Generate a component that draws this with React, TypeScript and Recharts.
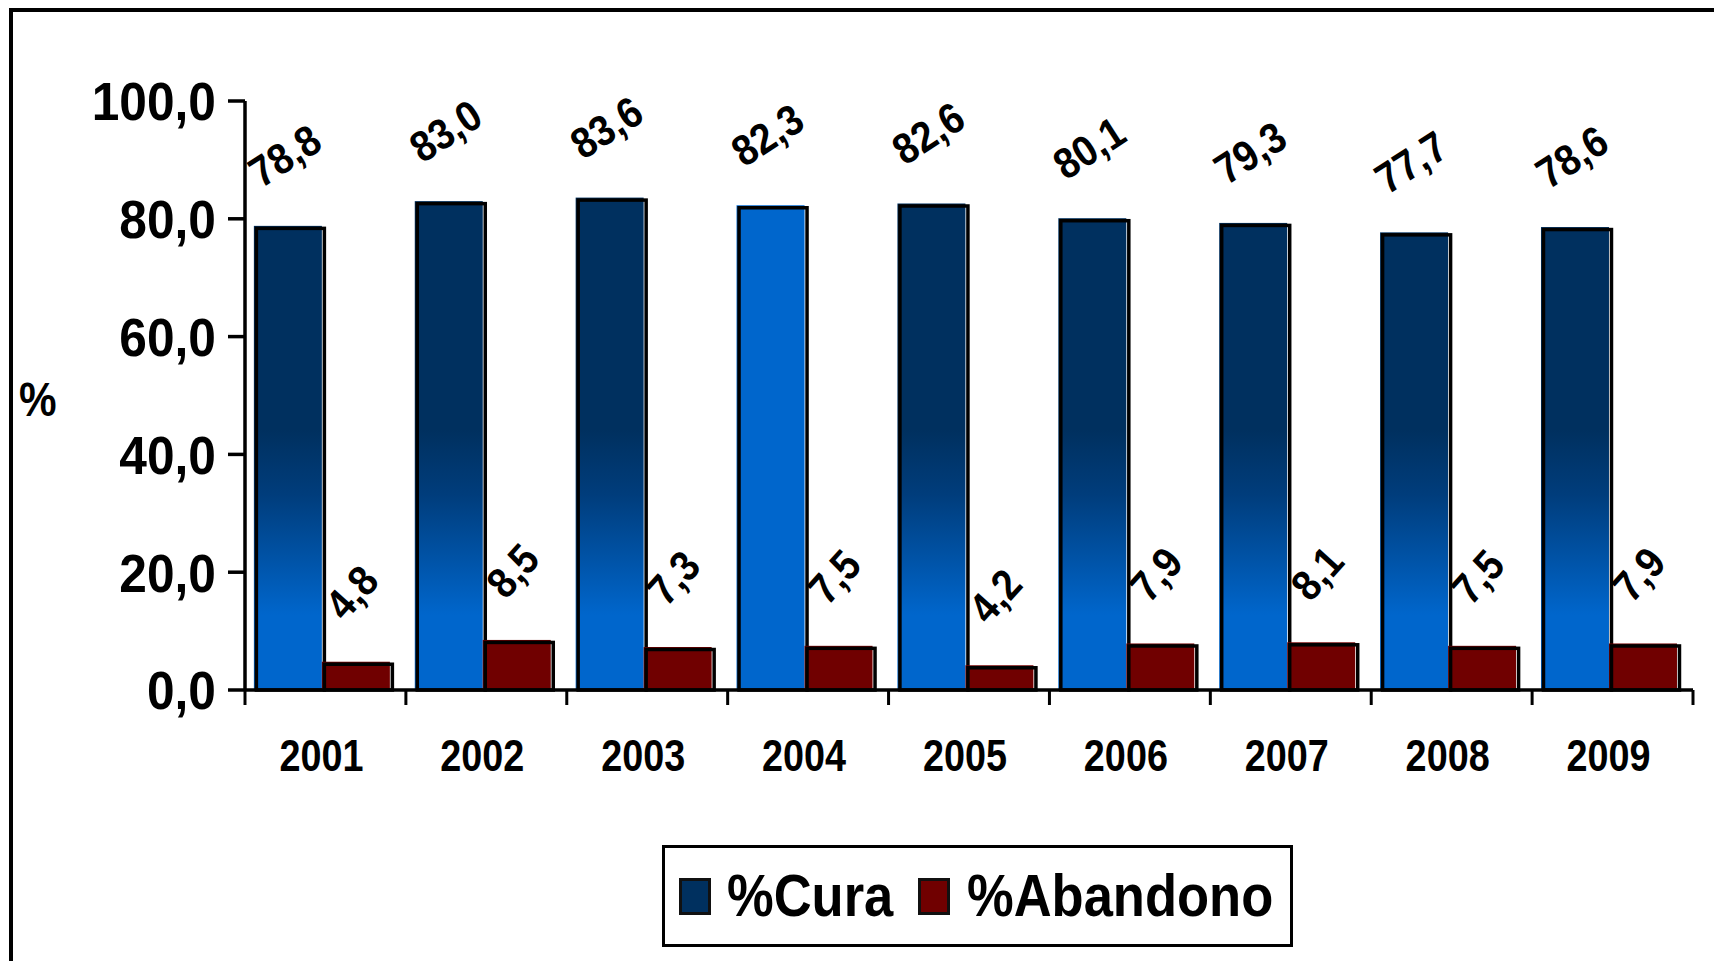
import React from "react";
import { Bar, BarChart, Cell, LabelList, XAxis, YAxis } from "recharts";

const years = ["2001", "2002", "2003", "2004", "2005", "2006", "2007", "2008", "2009"];
const cura = [78.8, 83.0, 83.6, 82.3, 82.6, 80.1, 79.3, 77.7, 78.6];
const abandono = [4.8, 8.5, 7.3, 7.5, 4.2, 7.9, 8.1, 7.5, 7.9];
const yTicks = [0, 20, 40, 60, 80, 100];
const highlightYear = "2004";

const data = years.map((year, i) => ({ year, cura: cura[i], abandono: abandono[i] }));

const W = 1714;
const H = 961;
const FONT = "'Liberation Sans', Arial, sans-serif";
const SHIFT = -4; // the bar groups sit a little left of the band centre
const fmt = (v: number) => v.toFixed(1).replace(".", ",");

// fill + black outline shifted a little, like the old office chart
const BarShape = (props: any) => {
	const { y, width, height, fill } = props;
	const x = props.x + SHIFT;
	if (!height || height <= 0) return null;
	return (
		<g>
			<rect x={x} y={y} width={width} height={height} fill={fill} />
			<rect
				x={x + 2.5}
				y={y + 2.5}
				width={width}
				height={height - 2.5}
				fill="none"
				stroke="#000"
				strokeWidth={3.5}
			/>
		</g>
	);
};

const makeLabel = (angle: number, dx: number, lift: number) => (props: any) => {
	const { x, y, width, value } = props;
	const cx = x + width / 2 + dx + SHIFT;
	const cy = y - lift;
	return (
		<text
			x={cx}
			y={cy}
			textAnchor="middle"
			dominantBaseline="central"
			transform={`rotate(${angle}, ${cx}, ${cy}) translate(${cx}, 0) scale(0.9, 1) translate(${-cx}, 0)`}
			fontFamily={FONT}
			fontWeight="bold"
			fontSize={43}
			fill="#000"
		>
			{fmt(value)}
		</text>
	);
};

const XTick = (props: any) => {
	const { x, y, payload, index } = props;
	const half = payload?.offset || 80.5;
	const tx = x + SHIFT;
	return (
		<g>
			<line x1={x - half} y1={y} x2={x - half} y2={y + 15} stroke="#000" strokeWidth={3} />
			{index === years.length - 1 && (
				<line x1={x + half} y1={y} x2={x + half} y2={y + 15} stroke="#000" strokeWidth={3} />
			)}
			<text
				x={tx}
				y={y + 81}
				textAnchor="middle"
				transform={`translate(${tx}, 0) scale(0.84, 1) translate(${-tx}, 0)`}
				fontFamily={FONT}
				fontWeight="bold"
				fontSize={45}
				fill="#000"
			>
				{payload.value}
			</text>
		</g>
	);
};

const YTick = (props: any) => {
	const { x, y, payload } = props;
	return (
		<text
			x={x}
			y={y}
			dy="0.36em"
			textAnchor="end"
			transform={`translate(${x}, 0) scale(0.92, 1) translate(${-x}, 0)`}
			fontFamily={FONT}
			fontWeight="bold"
			fontSize={54}
			fill="#000"
		>
			{fmt(payload.value)}
		</text>
	);
};

const Swatch = ({ color, left }: { color: string; left: number }) => (
	<div
		style={{
			position: "absolute",
			left,
			top: 878,
			width: 26,
			height: 31,
			background: color,
			border: "3px solid #111",
		}}
	/>
);

const LegendText = ({ text, left }: { text: string; left: number }) => (
	<div
		style={{
			position: "absolute",
			left,
			top: 858,
			fontFamily: FONT,
			fontWeight: "bold",
			fontSize: 60,
			lineHeight: "76px",
			color: "#000",
			whiteSpace: "nowrap",
			transform: "scaleX(0.875)",
			transformOrigin: "left center",
		}}
	>
		{text}
	</div>
);

export default function App() {
	return (
		<div
			style={{
				position: "fixed",
				left: 0,
				top: 0,
				width: W,
				height: H,
				overflow: "hidden",
				background: "#fff",
			}}
		>
			{/* outer frame, cut off at right and bottom */}
			<div
				style={{
					position: "absolute",
					left: 9,
					top: 8,
					width: 1800,
					height: 1100,
					border: "4px solid #000",
				}}
			/>
			<BarChart
				width={W}
				height={H}
				data={data}
				margin={{ top: 101, right: 21, left: 0, bottom: 191 }}
				barCategoryGap="8%"
				barGap={0}
				style={{ position: "absolute", left: 0, top: 0 }}
			>
				<defs>
					<linearGradient id="curaGrad" gradientUnits="userSpaceOnUse" x1="0" y1="430" x2="0" y2="615">
						<stop offset="0" stopColor="#00305F" />
						<stop offset="0.35" stopColor="#003D7C" />
						<stop offset="1" stopColor="#0066CC" />
					</linearGradient>
				</defs>
				<XAxis
					dataKey="year"
					height={80}
					tickSize={0}
					tickMargin={0}
					tickLine={false}
					axisLine={{ stroke: "#000", strokeWidth: 3.5 }}
					tick={<XTick />}
					interval={0}
				/>
				<YAxis
					width={245}
					domain={[0, 100]}
					ticks={yTicks}
					tickSize={17}
					tickMargin={12}
					axisLine={{ stroke: "#000", strokeWidth: 3.5 }}
					tickLine={{ stroke: "#000", strokeWidth: 3.5 }}
					tick={<YTick />}
				/>
				<Bar dataKey="cura" name="%Cura" fill="url(#curaGrad)" shape={<BarShape />} isAnimationActive={false}>
					{data.map((d) => (
						<Cell key={d.year} fill={d.year === highlightYear ? "#0066CC" : "url(#curaGrad)"} />
					))}
					<LabelList dataKey="cura" content={makeLabel(-33, -3, 70)} />
				</Bar>
				<Bar dataKey="abandono" name="%Abandono" fill="#700000" shape={<BarShape />} isAnimationActive={false}>
					<LabelList dataKey="abandono" content={makeLabel(-48, -4, 69)} />
				</Bar>
			</BarChart>

			{/* y axis title */}
			<div
				style={{
					position: "absolute",
					left: 19,
					top: 372,
					fontFamily: FONT,
					fontWeight: "bold",
					fontSize: 48,
					color: "#000",
					transform: "scaleX(0.88)",
					transformOrigin: "left center",
				}}
			>
				%
			</div>

			{/* legend */}
			<div
				style={{
					position: "absolute",
					left: 662,
					top: 845,
					width: 631,
					height: 102,
					border: "3px solid #000",
					boxSizing: "border-box",
				}}
			/>
			<Swatch color="#00305F" left={679} />
			<LegendText text="%Cura" left={727} />
			<Swatch color="#700000" left={918} />
			<LegendText text="%Abandono" left={967} />
		</div>
	);
}
